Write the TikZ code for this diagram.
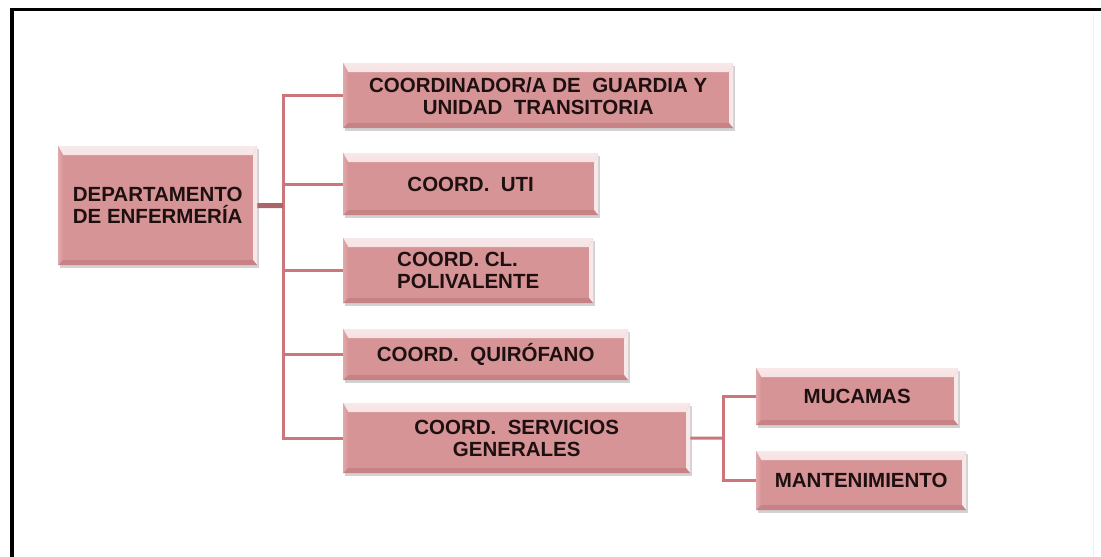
\documentclass[tikz,border=0pt]{standalone}
\usepackage{fontspec}
\setmainfont{Liberation Sans}
\usetikzlibrary{shadows}
\definecolor{boxfill}{RGB}{214,148,150}
\definecolor{boxtop}{RGB}{236,190,191}
\definecolor{boxleft}{RGB}{226,168,170}
\definecolor{boxright}{RGB}{248,232,233}
\definecolor{boxbot}{RGB}{198,130,133}
\definecolor{linecol}{RGB}{204,118,124}
\definecolor{txtcol}{RGB}{30,16,16}
\tikzset{
  orgbox/.style={draw=none, fill=boxfill, anchor=north west, inner sep=0pt,
    align=center, text=txtcol,
    font=\bfseries\fontsize{20.5}{22}\selectfont,
    drop shadow={opacity=0.25, shadow xshift=2pt, shadow yshift=-3pt, fill=black!70},
    path picture={
      \shade[top color=boxright, bottom color=boxtop]
        (path picture bounding box.north west) -- (path picture bounding box.north east)
        -- ([shift={(-4pt,-9pt)}]path picture bounding box.north east)
        -- ([shift={(5pt,-9pt)}]path picture bounding box.north west) -- cycle;
      \shade[left color=boxleft, right color=boxfill]
        (path picture bounding box.north west) -- ([shift={(5pt,-9pt)}]path picture bounding box.north west)
        -- ([shift={(5pt,5pt)}]path picture bounding box.south west)
        -- (path picture bounding box.south west) -- cycle;
      \fill[boxright]
        (path picture bounding box.north east) -- ([shift={(-4pt,-9pt)}]path picture bounding box.north east)
        -- ([shift={(-4pt,5pt)}]path picture bounding box.south east)
        -- (path picture bounding box.south east) -- cycle;
      \fill[boxbot]
        (path picture bounding box.south west) -- ([shift={(5pt,5pt)}]path picture bounding box.south west)
        -- ([shift={(-4pt,5pt)}]path picture bounding box.south east)
        -- (path picture bounding box.south east) -- cycle;
    }},
  conn/.style={draw=linecol, line width=3pt},
  connthick/.style={draw=linecol!85!black, line width=5pt}
}
\begin{document}
\begin{tikzpicture}[x=1pt,y=-1pt]
\useasboundingbox (0,0) rectangle (1101,557);
\fill[white] (0,0) rectangle (1101,557);
% frame
\draw[line width=3pt] (10,9.5) -- (1101,9.5);
\draw[line width=3.5pt] (12,8) -- (12,557);
\draw[black!6, line width=1pt] (1093,14) -- (1093,557);

% nodes
\node[orgbox, minimum width=199pt, minimum height=119pt] (dept) at (58,146)
  {DEPARTAMENTO\\DE ENFERMERÍA};
\node[orgbox, minimum width=390pt, minimum height=65pt] (b1) at (343,63)
  {COORDINADOR/A DE\ \ GUARDIA Y\\UNIDAD\ \ TRANSITORIA};
\node[orgbox, minimum width=255pt, minimum height=62pt] (b2) at (343,153)
  {COORD.\ \ UTI};
\node[orgbox, minimum width=250pt, minimum height=65pt, align=left] (b3) at (343,238)
  {COORD. CL.\\POLIVALENTE};
\node[orgbox, minimum width=285pt, minimum height=51pt] (b4) at (343,329)
  {COORD.\ \ QUIRÓFANO};
\node[orgbox, minimum width=347pt, minimum height=70pt] (b5) at (343,403)
  {COORD.\ \ SERVICIOS\\GENERALES};
\node[orgbox, minimum width=202pt, minimum height=57pt] (m1) at (756,368)
  {MUCAMAS};
\node[orgbox, minimum width=210pt, minimum height=59pt] (m2) at (756,451)
  {MANTENIMIENTO};

% connectors
\coordinate (tr) at (283,205.5);
\coordinate (st) at (723,438);
\draw[conn] (tr) |- (b1.west);
\draw[conn] (tr) |- (b2.west);
\draw[conn] (tr) |- (b3.west);
\draw[conn] (tr) |- (b4.west);
\draw[conn] (tr) |- (b5.west);
\draw[connthick] (dept.east) -- (tr);
\draw[conn] (b5.east) -- (st);
\draw[conn] (st) |- (m1.west);
\draw[conn] (st) |- (m2.west);
\end{tikzpicture}
\end{document}
